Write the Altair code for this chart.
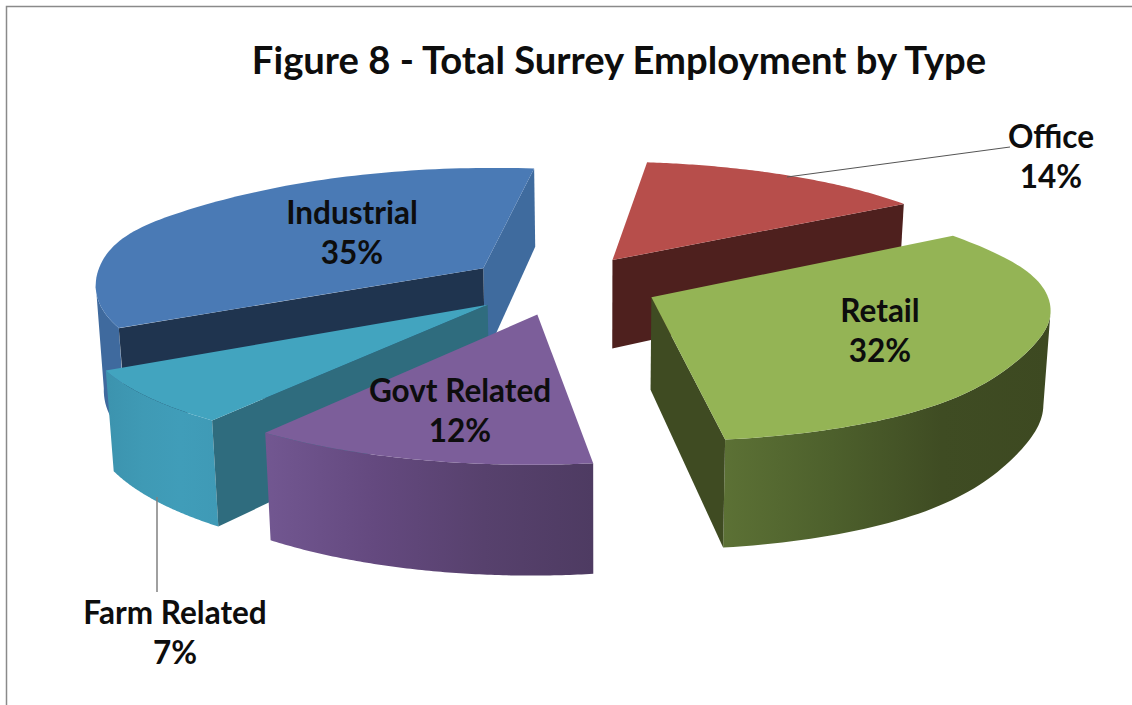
import numpy as np
import altair as alt

# Employment shares, clockwise around the pie starting from the Office slice
names = ["Office", "Retail", "Govt Related", "Farm Related", "Industrial"]
shares = [14, 32, 12, 7, 35]

top_colors = ["#b74e4b", "#94b455", "#7c5e9a", "#42a4bf", "#4a7ab5"]
cut_colors = {"Office": "#4e201e", "Retail": "#3f4b22", "Farm Related": "#2f6c7e",
              "Industrial": "#1f344f"}
far_cut_color = "#3f6b9e"
wall_stops = {
    "Retail": ["#5c7135", "#4d602c", "#3f4c23", "#3d4921"],
    "Govt Related": ["#725791", "#64497f", "#57416d", "#4e3b62"],
    "Farm Related": ["#3c93ae", "#3f9ab5", "#409db9", "#3f9ab6"],
    "Industrial": ["#3f6a9e", "#3f6a9e", "#3f6a9e", "#3f6a9e"],
}

# Camera: plane of the pie -> page pixels
CAMERA = np.array([[386.638, -94.310, 562.144],
                   [-33.254, -70.814, 284.573],
                   [0.0639102, 0.128743, 1.0]])
START_DEG = 32.5
EXPLODE = 0.25
THICKNESS = 91.0
SKEW = 0.016
SKEW_X = 600.0

# Rim shaping per slice: (dx, dy, centre along the rim, spread), in page pixels
RIM_SHAPE = {
    "Retail": [(5, -1, 0.2, 0.14), (-4, -6, 0.52, 0.16)],
    "Industrial": [(0, -7, 0.3, 0.16)],
}
WALL_DEPTH = {"Industrial": 1.14}


def on_plane(angle):
    return np.array([np.sin(angle), np.cos(angle)])


def project(point):
    q = CAMERA @ np.array([point[0], point[1], 1.0])
    return np.array([q[0] / q[2], q[1] / q[2]]), q[2]


def top(point):
    return project(point)[0]


def bottom(point, depth=1.0):
    xy, w = project(point)
    return xy + np.array([SKEW * (SKEW_X - xy[0]), depth * THICKNESS / w])


def feature(points):
    ring = [[float(x), float(y)] for x, y in points]
    ring.append(ring[0])
    return {"type": "Feature", "properties": {},
            "geometry": {"type": "Polygon", "coordinates": [ring]}}


PAGE = dict(type="identity", scale=1, translate=[0, 0])


def polygon(points, fill):
    return (alt.Chart(alt.Data(values=[feature(points)]))
            .mark_geoshape(fill=fill, stroke=None)
            .project(**PAGE))


def polyline(points, color, width):
    line = {"type": "Feature", "properties": {},
            "geometry": {"type": "LineString",
                         "coordinates": [[float(x), float(y)] for x, y in points]}}
    return (alt.Chart(alt.Data(values=[line]))
            .mark_geoshape(fill=None, filled=False, stroke=color, strokeWidth=width)
            .project(**PAGE))


def horizontal_gradient(colors):
    stops = [alt.GradientStop(color=c, offset=i / (len(colors) - 1)) for i, c in enumerate(colors)]
    return alt.LinearGradient(gradient="linear", x1=0, x2=1, y1=0, y2=0, stops=stops)


edges = np.cumsum([0] + shares) / 100 * 2 * np.pi + np.radians(START_DEG)


def slice_layers(i):
    name = names[i]
    a0, a1 = edges[i], edges[i + 1]
    apex = EXPLODE * on_plane((a0 + a1) / 2)
    fractions = np.linspace(0, 1, 90)
    rim = [apex + on_plane(a0 + f * (a1 - a0)) for f in fractions]

    def shaped(f):
        shift = np.zeros(2)
        for dx, dy, c, w in RIM_SHAPE.get(name, []):
            shift += np.array([dx, dy]) * np.exp(-((f - c) / w) ** 2)
        return shift

    rim_top = [top(p) + shaped(f) for p, f in zip(rim, fractions)]
    depth = WALL_DEPTH.get(name, 1.0)
    rim_bottom = [bottom(p, depth) + shaped(f) for p, f in zip(rim, fractions)]

    layers = []
    if name in wall_stops:
        # Only the stretch of rim facing the viewer gets a wall, cut at the silhouette
        xs = [p[0] for p in rim_top]
        lo, hi = 0, len(rim)
        if name == "Retail":
            lo = int(np.argmax(xs))
        elif name == "Industrial":
            hi = int(np.argmin(xs)) + 1
        layers.append(polygon(rim_top[lo:hi] + rim_bottom[lo:hi][::-1],
                              horizontal_gradient(wall_stops[name])))

    def cut(end, color):
        return polygon([top(apex), top(end), bottom(end), bottom(apex)], color)

    if name == "Office":
        layers.append(cut(rim[-1], cut_colors[name]))
    elif name == "Retail":
        layers.append(cut(rim[-1], cut_colors[name]))
    elif name == "Farm Related":
        layers.append(cut(rim[0], cut_colors[name]))
    elif name == "Industrial":
        layers.append(cut(rim[-1], far_cut_color))
        layers.append(cut(rim[0], cut_colors[name]))
    layers.append(polygon([top(apex)] + rim_top, top_colors[i]))
    return layers


# Back-to-front drawing order
paint_order = ["Industrial", "Farm Related", "Govt Related", "Office", "Retail"]
pie_layers = []
for n in paint_order:
    pie_layers += slice_layers(names.index(n))

# Label anchor for each slice: name line, then percentage line
label_x = {"Office": 1051, "Retail": 880, "Govt Related": 460, "Farm Related": 175, "Industrial": 352}
label_y = {"Office": 139, "Retail": 313, "Govt Related": 393, "Farm Related": 615, "Industrial": 215}
LINE_GAP = 40

rows = []
for n, s in zip(names, shares):
    rows.append({"text": n, "lon": label_x[n], "lat": label_y[n]})
    rows.append({"text": f"{s}%", "lon": label_x[n], "lat": label_y[n] + LINE_GAP})

labels = (alt.Chart(alt.Data(values=rows))
          .mark_text(font="Lato", fontWeight="bold", fontSize=31.5, color="#0d0d0d", align="center")
          .encode(longitude="lon:Q", latitude="lat:Q", text="text:N")
          .project(**PAGE))

title_rows = [{"text": "Figure 8 - Total Surrey Employment by Type", "lon": 619, "lat": 63}]
title = (alt.Chart(alt.Data(values=title_rows))
         .mark_text(font="Lato", fontWeight="bold", fontSize=38.2, color="#0d0d0d", align="center")
         .encode(longitude="lon:Q", latitude="lat:Q", text="text:N")
         .project(**PAGE))

frame = polyline([(6.5, 705), (6.5, 6.5), (1132, 6.5)], "#8a8a8a", 1.5)
office_leader = polyline([(1010, 147), (787, 177)], "#555555", 1)
farm_leader = polyline([(157, 497), (157, 592)], "#808080", 1.5)

chart = alt.layer(frame, *pie_layers, office_leader, farm_leader, title, labels).properties(
    width=1132, height=705, padding=0, background="white",
    autosize=alt.AutoSizeParams(type="none"),
).configure_view(stroke=None)

chart.save("out.html", embed_options={"renderer": "svg", "actions": False})
